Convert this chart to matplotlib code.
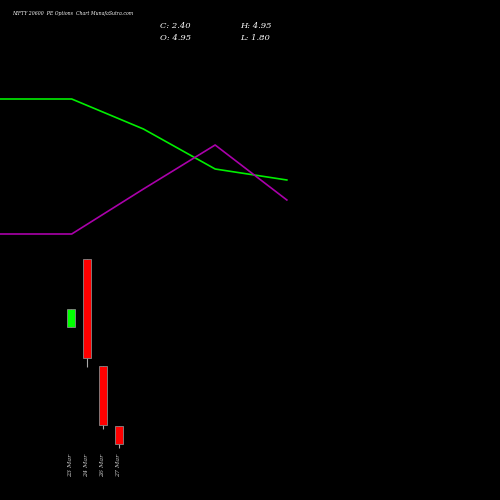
import matplotlib
matplotlib.use("Agg")
import matplotlib.pyplot as plt

dates = ["23 Mar", "24 Mar", "26 Mar", "27 Mar"]
opens = [18.98, 28.6, 13.45, 4.95]
highs = [21.53, 28.6, 13.45, 4.95]
lows = [18.98, 13.3, 4.52, 1.80]
closes = [21.53, 14.6, 5.09, 2.40]

line_green = [401, 401, 371, 331, 320]
line_purple = [266, 266, 311, 355, 300]

fig = plt.figure(figsize=(5, 5), dpi=100, facecolor="black")
ax = fig.add_axes([0, 0, 1, 1], facecolor="black")
ax.set_axis_off()
ax.set_xlim(-71/16, (500-71)/16)
ax.set_ylim(-5.54, 65.3)
w = 0.55
for i in range(len(dates)):
    o, h, l, c = opens[i], highs[i], lows[i], closes[i]
    col = "#00ff00" if c >= o else "#ff0000"
    ax.vlines(i, l, h, color="#aaaaaa", lw=0.8, zorder=1)
    ax.bar(i, abs(c - o), bottom=min(o, c), width=w, color=col,
           edgecolor="#888888", linewidth=0.6, zorder=2)
    ax.text(i, -0.6, dates[i], rotation=90, color="#cccccc", fontsize=4.5,
            ha="center", va="center", family="DejaVu Serif", style="italic")

ax2 = fig.add_axes([0, 0, 1, 1], facecolor="none")
ax2.set_axis_off()
ax2.set_xlim(0, 502/72)
ax2.set_ylim(0, 500)
xs = list(range(len(line_green)))
ax2.plot(xs, line_green, color="#00ee00", lw=1.2)
ax2.plot(xs, line_purple, color="#aa00aa", lw=1.2)

fig.text(12/500, 1-14/500, "NIFTY 20600  PE Options  Chart MunafaSutra.com", color="white",
         fontsize=3.3, family="DejaVu Serif", style="italic", va="center")
for x, y, s in [(160, 26, "C: 2.40"), (160, 38, "O: 4.95"), (240, 26, "H: 4.95"), (240, 38, "L: 1.80")]:
    fig.text(x/500, 1-y/500, s, color="white", fontsize=6, family="DejaVu Serif",
             style="italic", va="center")

fig.savefig("out.png", dpi=100, facecolor="black")
